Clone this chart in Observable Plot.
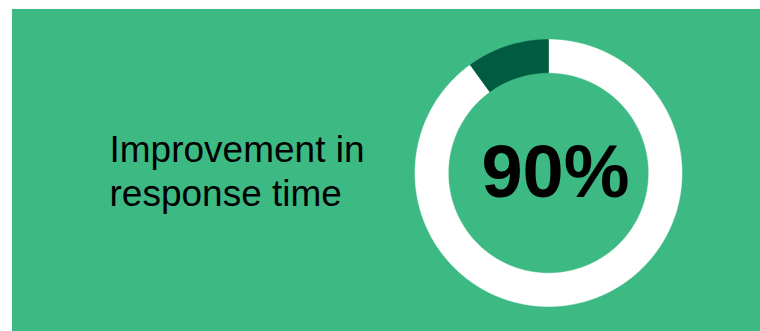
<!DOCTYPE html>
<html>
<head>
<meta charset="utf-8">
<script src="https://cdn.jsdelivr.net/npm/d3@7"></script>
<script src="https://cdn.jsdelivr.net/npm/@observablehq/plot@0.6"></script>
<style>
  html, body { margin: 0; padding: 0; background: #ffffff; }
  #wrap { position: relative; width: 760px; height: 331px; overflow: hidden; }
  #bg { position: absolute; left: 12px; top: 9px; width: 748px; height: 322px; background: #3dba84; }
  #chart { position: absolute; left: 0; top: 0; }
  #chart svg { background: transparent; }
</style>
</head>
<body>
<div id="wrap"><div id="bg"></div><div id="chart"></div></div>
<script>
// Data
const sliceNames = ["Improvement", "Remaining"];
const sliceValues = [90, 10];
const sliceColors = ["#ffffff", "#005b40"];
const headline = "90%";
const labelLines = ["Improvement in", "response time"];

// Layout (pixels)
const W = 760, H = 331;
const cx = 548, cy = 172.5, rOuter = 133.5, rInner = 100.2;

// Build ring polygons from the slice values (angles from 12 o'clock, clockwise)
const total = d3.sum(sliceValues);
const ringPts = [];
let acc = 0;
sliceNames.forEach((name, i) => {
  const a0 = acc / total * 2 * Math.PI;
  acc += sliceValues[i];
  const a1 = acc / total * 2 * Math.PI;
  const n = Math.max(4, Math.ceil((a1 - a0) / (Math.PI / 360)));
  const outer = [], inner = [];
  for (let k = 0; k <= n; k++) {
    const a = a0 + (a1 - a0) * k / n;
    outer.push({name, x: cx + rOuter * Math.sin(a), y: cy - rOuter * Math.cos(a)});
    inner.push({name, x: cx + rInner * Math.sin(a), y: cy - rInner * Math.cos(a)});
  }
  ringPts.push(...outer, ...inner.reverse());
});

const chart = Plot.plot({
  width: W,
  height: H,
  margin: 0,
  style: {background: "transparent", fontFamily: "'Liberation Sans', Arial, sans-serif"},
  x: {domain: [0, W], range: [0, W], axis: null},
  y: {domain: [0, H], range: [0, H], axis: null},
  color: {domain: sliceNames, range: sliceColors},
  marks: [
    Plot.line(ringPts, {x: "x", y: "y", z: "name", fill: "name", stroke: "name", strokeWidth: 0.5, curve: "linear"}),
    Plot.text([labelLines.join("\n")], {
      x: () => 109, y: () => cy - 3, text: d => d,
      textAnchor: "start", lineAnchor: "middle", lineHeight: 1.19,
      fontSize: 37, fill: "#000000",
      fontFamily: "'Liberation Sans', Arial, sans-serif"
    }),
    Plot.text([headline], {
      x: () => cx, y: () => cy, text: d => d, dx: 7, dy: 0,
      textAnchor: "middle", lineAnchor: "middle",
      fontSize: 74, fontWeight: "bold", fill: "#000000",
      fontFamily: "'Liberation Sans', Arial, sans-serif"
    })
  ]
});
document.getElementById("chart").appendChild(chart);
</script>
</body>
</html>
